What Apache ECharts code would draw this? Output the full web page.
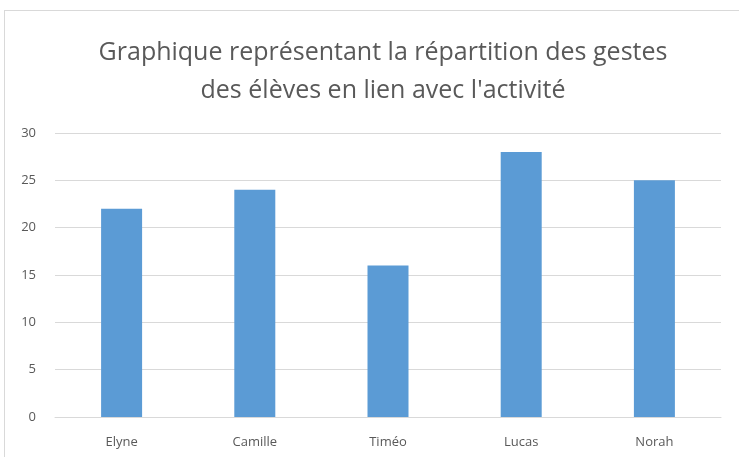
<!DOCTYPE html>
<html>
<head>
<meta charset="utf-8">
<script src="https://cdn.jsdelivr.net/npm/echarts@6/dist/echarts.min.js"></script>
<style>
html, body { margin: 0; padding: 0; background: #fff; }
#frame {
  position: absolute; left: 4px; top: 10px; width: 760px; height: 470px;
  border: 1px solid #d9d9d9; box-sizing: border-box;
}
#chart { position: absolute; left: 0; top: 0; width: 739px; height: 457px; }
</style>
</head>
<body>
<div id="frame"></div>
<div id="chart"></div>
<script>
var titleText = "Graphique représentant la répartition des gestes\ndes élèves en lien avec l'activité";
var categories = ["Elyne", "Camille", "Timéo", "Lucas", "Norah"];
var values = [22, 24, 16, 28, 25];
var yTicks = [0, 5, 10, 15, 20, 25, 30];

var myChart = echarts.init(document.getElementById("chart"));
var option = {
  animation: false,
  title: {
    text: titleText,
    left: 378,
    textAlign: "center",
    top: 29,
    textStyle: {
      fontFamily: "Open Sans",
      fontSize: 25,
      fontWeight: "normal",
      color: "#595959",
      lineHeight: 38
    }
  },
  grid: { left: 55, right: 18, top: 133, bottom: 40 },
  xAxis: {
    type: "category",
    data: categories,
    axisTick: { show: false },
    axisLine: { lineStyle: { color: "#d9d9d9", width: 1 } },
    axisLabel: { color: "#595959", fontFamily: "Open Sans", fontSize: 13, margin: 19 }
  },
  yAxis: {
    type: "value",
    min: yTicks[0],
    max: yTicks[yTicks.length - 1],
    interval: 5,
    axisLine: { show: false },
    axisTick: { show: false },
    splitLine: { lineStyle: { color: "#d9d9d9", width: 1 } },
    axisLabel: { color: "#595959", fontFamily: "Open Sans", fontSize: 13, margin: 19 }
  },
  series: [
    {
      type: "bar",
      data: values,
      barWidth: 41,
      itemStyle: { color: "#5b9bd5" }
    }
  ]
};
myChart.setOption(option);
</script>
</body>
</html>
